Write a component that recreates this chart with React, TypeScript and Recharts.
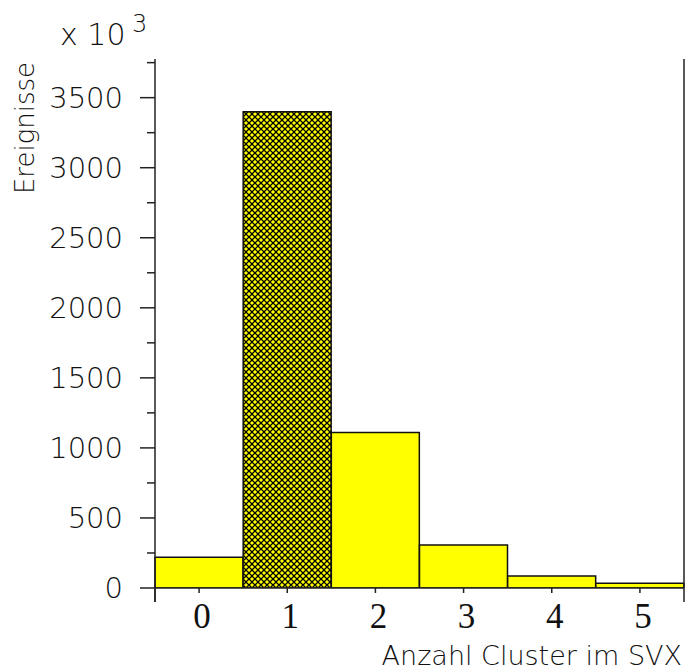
import { BarChart, Bar, XAxis, YAxis, Cell } from 'recharts';

// Anzahl Cluster im SVX (bins 0..5)
const clusterBins = ['0', '1', '2', '3', '4', '5'];
// Ereignisse in units of 10^3
const eventCounts = [220, 3400, 1110, 307, 86, 34];
const hatchedBin = '1';

const yMajorTicks = [0, 500, 1000, 1500, 2000, 2500, 3000, 3500];
const yMinorTicks = [250, 750, 1250, 1750, 2250, 2750, 3250, 3750];
const yMax = 3776;

const data = clusterBins.map((bin, i) => ({ bin, events: eventCounts[i] }));

const AXIS = '#222';
const SANS = '"DejaVu Sans", sans-serif';

const YTick = (props: any) => {
  const { x, y, payload } = props;
  const major = yMajorTicks.includes(payload.value);
  return (
    <g>
      <line x1={x - (major ? 15 : 8)} y1={y} x2={x} y2={y} stroke={AXIS} strokeWidth={1.5} />
      {major && (
        <text x={x - 32} y={y} textAnchor="end" dominantBaseline="central"
          fontFamily={SANS} fontWeight={200} fontSize={29} fill="#111">
          {payload.value}
        </text>
      )}
    </g>
  );
};

const XTick = (props: any) => {
  const { x, y, payload, index, visibleTicksCount } = props;
  const half = payload.offset ?? 44;
  return (
    <g>
      <line x1={x} y1={y} x2={x} y2={y + 5} stroke={AXIS} strokeWidth={1.5} />
      {index === 0 && (
        <line x1={x - half} y1={y} x2={x - half} y2={y + 14} stroke={AXIS} strokeWidth={1.5} />
      )}
      {index === visibleTicksCount - 1 && (
        <line x1={x + half} y1={y} x2={x + half} y2={y + 14} stroke={AXIS} strokeWidth={1.5} />
      )}
      <text x={x + 3} y={y + 40} textAnchor="middle"
        fontFamily='"Liberation Serif", "Times New Roman", serif' fontSize={35} fill="#111">
        {payload.value}
      </text>
    </g>
  );
};

export default function App() {
  return (
    <div style={{ position: 'absolute', left: 0, top: 0, background: '#fff' }}>
      <BarChart
        width={685}
        height={670}
        data={data}
        margin={{ top: 59, right: 0, bottom: 0, left: 0 }}
        barCategoryGap={0}
        barGap={0}
      >
        <defs>
          <pattern id="hatch" patternUnits="userSpaceOnUse" width={6} height={6}>
            <rect width={6} height={6} fill="#FFFF00" />
            <path d="M-1,-1 L7,7 M7,-1 L-1,7" stroke="#000" strokeWidth={1.25} />
          </pattern>
        </defs>
        <XAxis
          dataKey="bin"
          height={82}
          tickSize={0}
          tickMargin={0}
          tickLine={false}
          axisLine={{ stroke: AXIS, strokeWidth: 1.5 }}
          tick={<XTick />}
          interval={0}
        />
        <XAxis
          xAxisId="top"
          dataKey="bin"
          orientation="top"
          height={0}
          tick={false}
          tickLine={false}
          axisLine={{ stroke: '#555', strokeWidth: 1.5 }}
        />
        <YAxis
          width={155}
          domain={[0, yMax]}
          ticks={[...yMajorTicks, ...yMinorTicks].sort((a, b) => a - b)}
          tickSize={0}
          tickMargin={0}
          tickLine={false}
          axisLine={{ stroke: AXIS, strokeWidth: 1.5 }}
          tick={<YTick />}
          interval={0}
          allowDataOverflow
        />
        <YAxis
          yAxisId="right"
          orientation="right"
          width={1}
          domain={[0, yMax]}
          tick={false}
          tickLine={false}
          axisLine={{ stroke: AXIS, strokeWidth: 1.5 }}
        />
        <Bar dataKey="events" fill="#FFFF00" stroke="#111" strokeWidth={1.5} isAnimationActive={false}>
          {data.map((d) => (
            <Cell key={d.bin} fill={d.bin === hatchedBin ? 'url(#hatch)' : '#FFFF00'} />
          ))}
        </Bar>
        <line x1={155} y1={588} x2={155} y2={602} stroke={AXIS} strokeWidth={1.5} />
        <text x={60} y={45} fontFamily={SANS} fontWeight={200} fontSize={30} fill="#111">x 10</text>
        <text x={132} y={32} fontFamily={SANS} fontWeight={200} fontSize={24} fill="#111">3</text>
        <text x={34} y={128} transform="rotate(-90, 34, 128)" textAnchor="middle"
          fontFamily={SANS} fontWeight={200} fontSize={26} fill="#111">Ereignisse</text>
        <text x={682} y={665} textAnchor="end"
          fontFamily={SANS} fontWeight={200} fontSize={27} fill="#111">Anzahl Cluster im SVX</text>
      </BarChart>
    </div>
  );
}
